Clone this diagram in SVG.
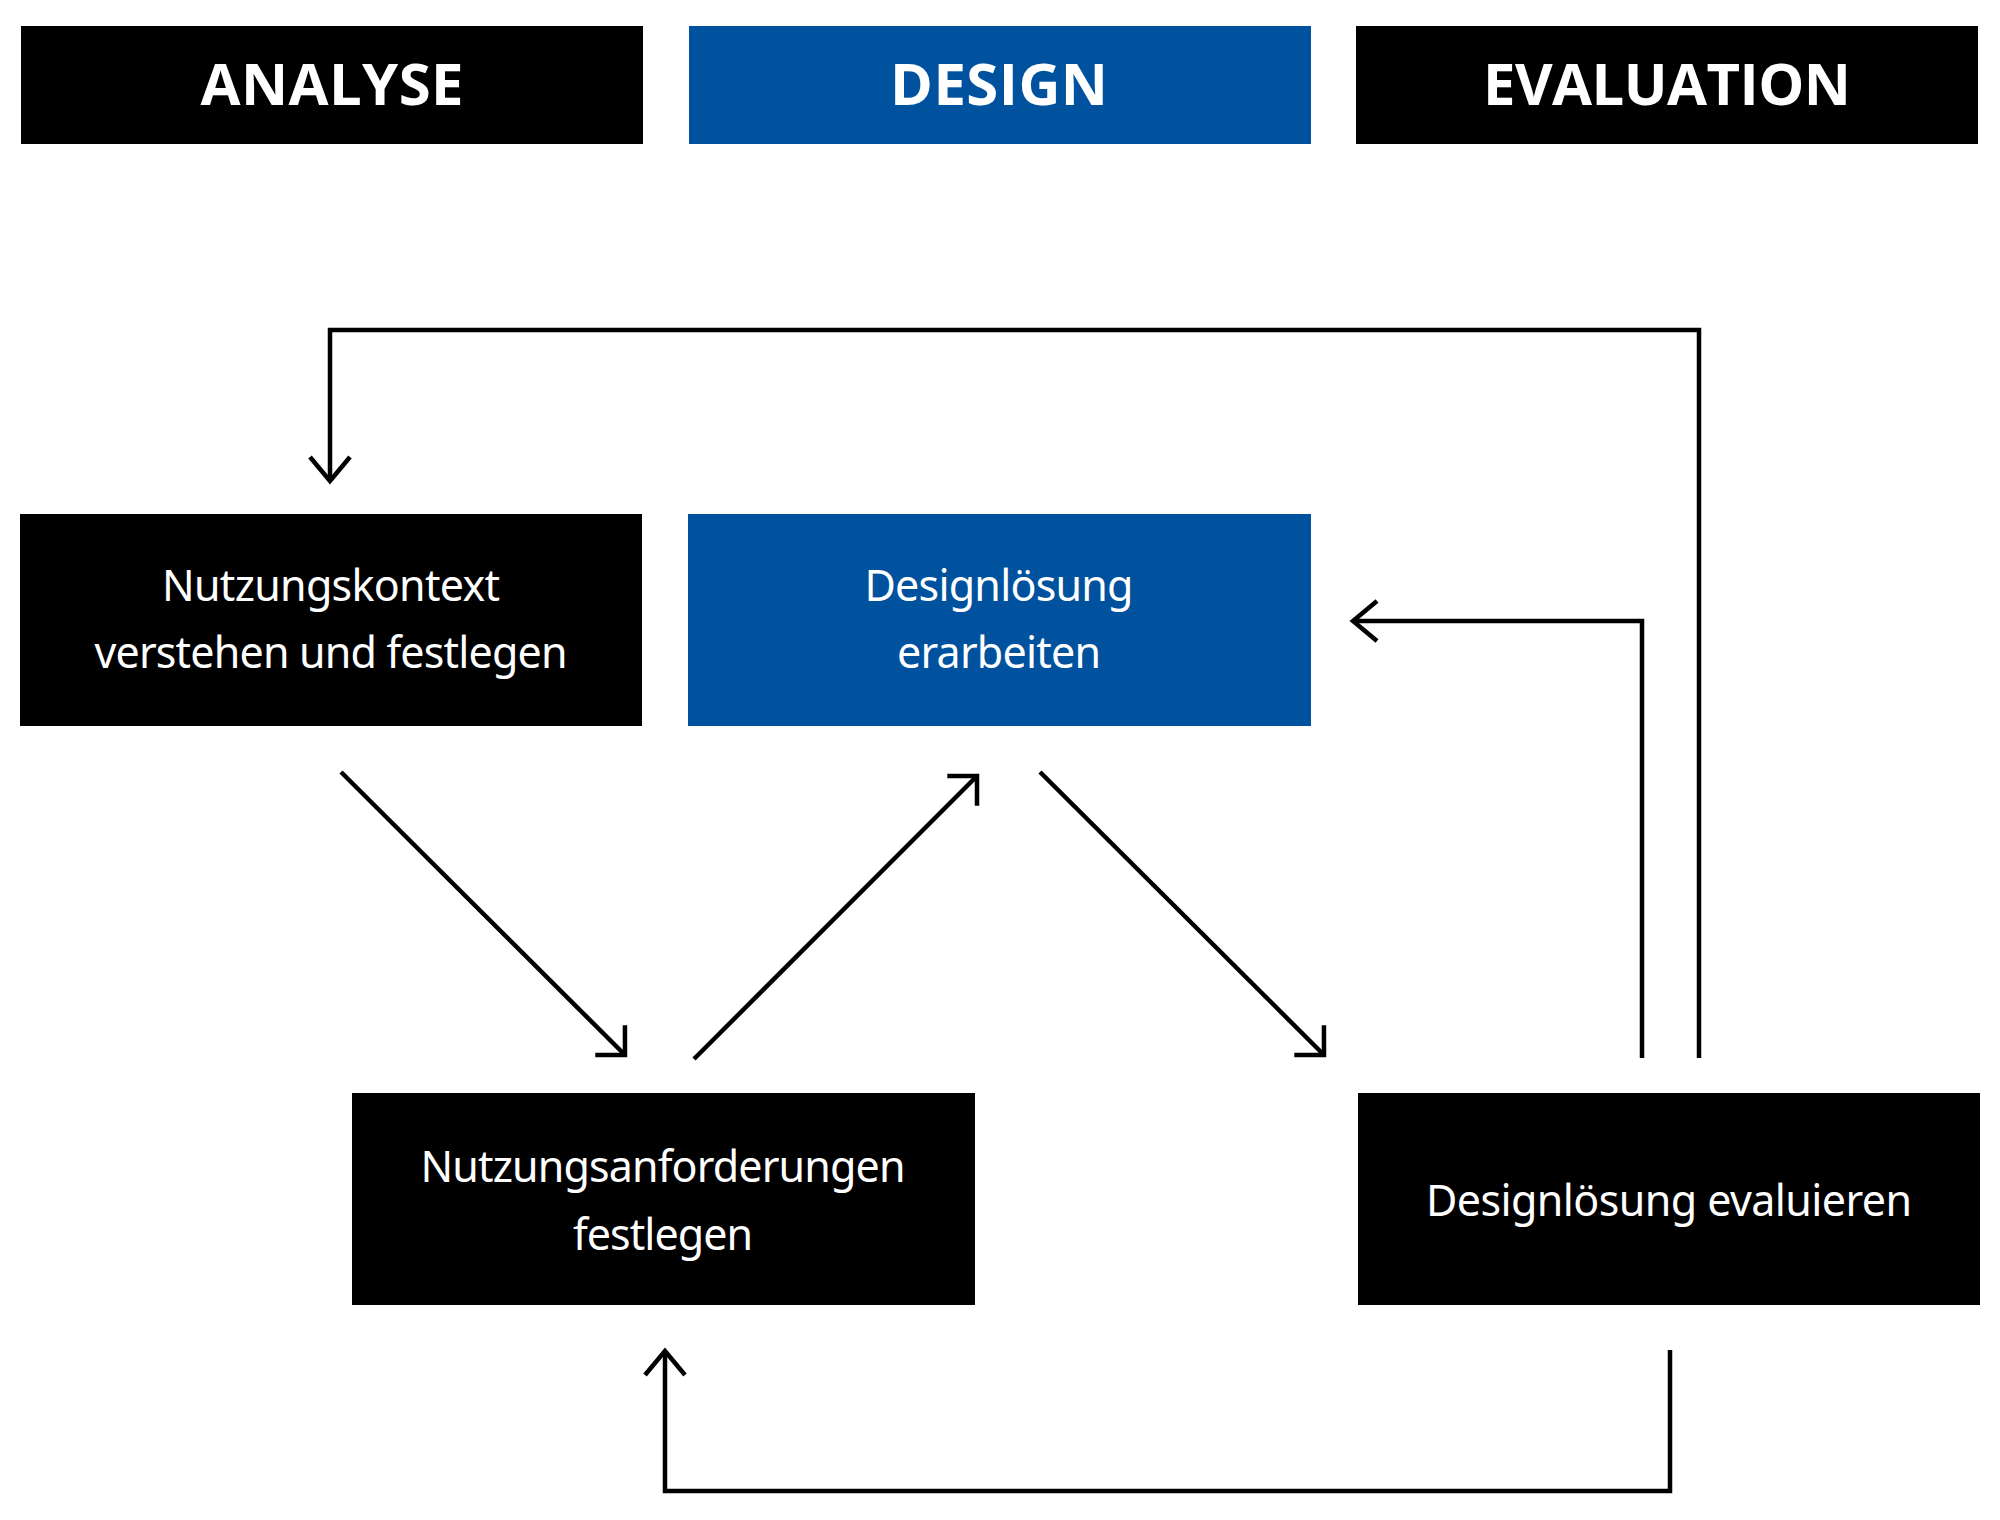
<svg xmlns="http://www.w3.org/2000/svg" width="2000" height="1520" viewBox="0 0 2000 1520">
<style>
.bk{fill:#000}
.bl{fill:#00519E}
.hd{font-family:"Open Sans","Liberation Sans",sans-serif;font-weight:700;font-size:58px;fill:#fff;text-anchor:middle}
.tx{font-family:"Noto Sans","Liberation Sans",sans-serif;font-size:43px;fill:#fff;text-anchor:middle}
.ln{fill:none;stroke:#000;stroke-width:4.5}
</style>
<defs>
<marker id="ah" markerUnits="userSpaceOnUse" markerWidth="60" markerHeight="60" viewBox="-30 -30 60 60" refX="0" refY="0" orient="auto" overflow="visible">
<path d="M-24,-20 L0,0 L-24,20" fill="none" stroke="#000" stroke-width="4.5"/>
</marker>
<marker id="ad" markerUnits="userSpaceOnUse" markerWidth="60" markerHeight="60" viewBox="-30 -30 60 60" refX="0" refY="0" orient="auto" overflow="visible">
<path d="M-21,-21 L0,0 L-21,21" fill="none" stroke="#000" stroke-width="4.5"/>
</marker>
</defs>
<rect width="2000" height="1520" fill="#fff"/>
<g id="h-analyse"><rect class="bk" x="21" y="26" width="622" height="118"/><text class="hd" x="332" y="105" textLength="263">ANALYSE</text></g>
<g id="h-design"><rect class="bl" x="689" y="26" width="622" height="118"/><text class="hd" x="999" y="105" textLength="218">DESIGN</text></g>
<g id="h-evaluation"><rect class="bk" x="1356" y="26" width="622" height="118"/><text class="hd" x="1667" y="105" textLength="368">EVALUATION</text></g>
<g id="n-kontext"><rect class="bk" x="20" y="514" width="622" height="212"/><text class="tx" x="331" y="601" textLength="338">Nutzungskontext</text><text class="tx" x="331" y="668" textLength="473">verstehen und festlegen</text></g>
<g id="n-design"><rect class="bl" x="688" y="514" width="623" height="212"/><text class="tx" x="999" y="601" textLength="269">Designlösung</text><text class="tx" x="999" y="668" textLength="204">erarbeiten</text></g>
<g id="n-anforderungen"><rect class="bk" x="352" y="1093" width="623" height="212"/><text class="tx" x="663" y="1182" textLength="485">Nutzungsanforderungen</text><text class="tx" x="663" y="1250" textLength="180">festlegen</text></g>
<g id="n-evaluieren"><rect class="bk" x="1358" y="1093" width="622" height="212"/><text class="tx" x="1669" y="1216" textLength="486">Designlösung evaluieren</text></g>
<g id="connectors">
<path class="ln" d="M341,772 L625,1055" marker-end="url(#ad)"/>
<path class="ln" d="M694,1059 L977,776" marker-end="url(#ad)"/>
<path class="ln" d="M1040,772 L1324,1055" marker-end="url(#ad)"/>
<path class="ln" d="M1699,1058 L1699,330 L330,330 L330,481" marker-end="url(#ah)"/>
<path class="ln" d="M1642,1058 L1642,621 L1353,621" marker-end="url(#ah)"/>
<path class="ln" d="M1670,1350 L1670,1491 L665,1491 L665,1351" marker-end="url(#ah)"/>
</g>
</svg>
